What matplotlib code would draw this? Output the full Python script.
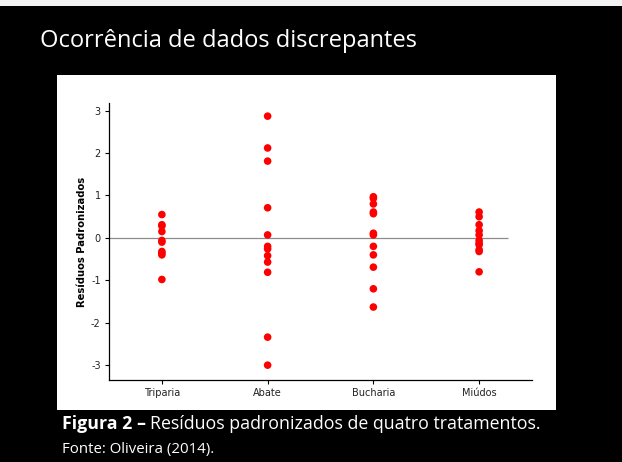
import matplotlib
matplotlib.use("Agg")
import matplotlib.pyplot as plt
from matplotlib.patches import Rectangle

categories = ["Triparia", "Abate", "Bucharia", "Miúdos"]
triparia = [0.55, 0.31, 0.28, 0.15, -0.06, -0.10, -0.32, -0.36, -0.40, -0.98]
abate = [2.87, 2.12, 1.81, 0.71, 0.07, -0.20, -0.26, -0.42, -0.57, -0.81, -2.34, -3.00]
bucharia = [0.97, 0.93, 0.80, 0.61, 0.57, 0.11, 0.07, -0.20, -0.40, -0.69, -1.20, -1.63]
miudos = [0.61, 0.50, 0.31, 0.17, 0.07, -0.06, -0.13, -0.16, -0.28, -0.32, -0.80]
series = [triparia, abate, bucharia, miudos]
yticks = [-3, -2, -1, 0, 1, 2, 3]

W, H = 622, 462
fig = plt.figure(figsize=(W / 100, H / 100), dpi=100)
fig.patch.set_facecolor("black")

# thin light strip at the very top
fig.patches.append(Rectangle((0, 1 - 6 / H), 1, 6 / H, transform=fig.transFigure,
                             facecolor="#f2f2f2", edgecolor="none", zorder=-2))
# white panel holding the chart
fig.patches.append(Rectangle((57 / W, 1 - 410 / H), (556 - 57) / W, (410 - 75) / H,
                             transform=fig.transFigure, facecolor="white",
                             edgecolor="none", zorder=-2))

fig.text(40 / W, 1 - 41 / H, "Ocorrência de dados discrepantes", color="white",
         fontsize=17, family="Open Sans", va="center", ha="left")

ax = fig.add_axes([109 / W, 1 - 380 / H, (532 - 109) / W, (380 - 103) / H])
ax.set_zorder(1)
ax.set_facecolor("white")
for i, vals in enumerate(series, start=1):
    ax.scatter([i] * len(vals), vals, s=30, color="#ff0000", edgecolors="none", zorder=3)
ax.hlines(0, 0.5, 4.27, color="#8c8c8c", linewidth=0.9, zorder=2)
ax.set_xlim(0.5, 4.5)
ax.set_ylim(-3.35, 3.18)
ax.set_xticks(range(1, len(categories) + 1))
ax.set_xticklabels(categories)
ax.set_yticks(yticks)
ax.set_yticklabels([str(t) for t in yticks])
ax.tick_params(labelsize=7, length=3, width=0.8, colors="black", labelcolor="#222222", pad=3)
for s in ["top", "right"]:
    ax.spines[s].set_visible(False)
for s in ["left", "bottom"]:
    ax.spines[s].set_linewidth(0.9)
ax.set_ylabel("Resíduos Padronizados", fontsize=7.2, fontweight="bold", labelpad=3)

# caption with bold prefix
fig.canvas.draw()
r = fig.canvas.get_renderer()
t1 = fig.text(62 / W, 1 - 424 / H, "Figura 2 –", color="white", fontsize=12.8,
              family="Open Sans", fontweight="bold", va="center", ha="left")
bb = t1.get_window_extent(renderer=r)
fig.text((bb.x1 + 4) / W, 1 - 424 / H, "Resíduos padronizados de quatro tratamentos.",
         color="white", fontsize=12.8, family="Open Sans", va="center", ha="left")
fig.text(62 / W, 1 - 449 / H, "Fonte: Oliveira (2014).", color="white", fontsize=10.8,
         family="Open Sans", va="center", ha="left")

fig.savefig("out.png", dpi=100, facecolor="black")
